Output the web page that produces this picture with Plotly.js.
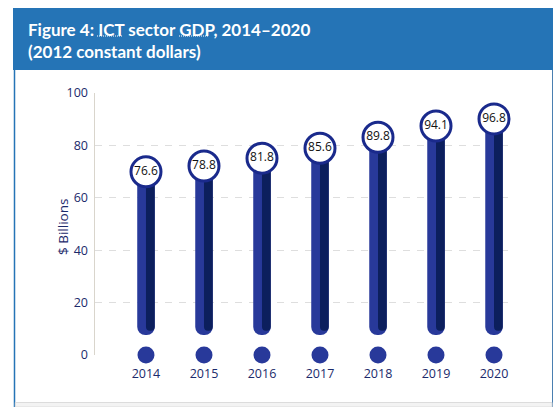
<!DOCTYPE html>
<html>
<head>
<meta charset="utf-8">
<script src="https://cdn.plot.ly/plotly-3.0.1.min.js"></script>
<style>
html,body{margin:0;padding:0;background:#fff;}
#chart{width:556px;height:407px;}
</style>
</head>
<body>
<div id="chart"></div>
<script>
// ---- data ----
const years = ["2014", "2015", "2016", "2017", "2018", "2019", "2020"];
const gdp = [76.6, 78.8, 81.8, 85.6, 89.8, 94.1, 96.8];
const gdpLabels = ["76.6", "78.8", "81.8", "85.6", "89.8", "94.1", "96.8"];
const yTicks = [0, 20, 40, 60, 80, 100];

// ---- style / geometry constants ----
const W = 556, H = 407;
const M = {l: 95, r: 45, t: 93, b: 52};
const plotW = W - M.l - M.r, plotH = H - M.t - M.b;
const yRange = [0, 100];
const xRange = [-0.879, 6.293];
const pxPerUnit = plotH / (yRange[1] - yRange[0]);
const CIRCLE_OFFSET = 17.5 / pxPerUnit;   // circle centre sits below the value
const BAR_END = 7.6;                      // rounded lower end of each stem
const DARK_END = BAR_END + 4.3 / pxPerUnit;
const unitPx = plotW / (xRange[1] - xRange[0]);
const barW = 17.5 / unitPx;

const NAVY = '#1b2a6b';
const LIGHT = '#28399a';
const DARK = '#0c1f5d';
const FONT = 'Lato, sans-serif';
const AXFONT = '"Open Sans", sans-serif';

const circleY = gdp.map(v => v - CIRCLE_OFFSET);

const px2x = p => (p - M.l) / plotW;
const px2y = p => (H - M.b - p) / plotH;

const traces = [
  {
    type: 'bar', x: years, y: circleY.map(c => BAR_END - c), base: circleY,
    width: barW, marker: {color: LIGHT, cornerradius: '50%', line: {width: 0}},
    hoverinfo: 'skip', showlegend: false
  },
  {
    type: 'bar', x: years, y: circleY.map(c => DARK_END - c), base: circleY,
    width: barW / 2, offset: 0, marker: {color: DARK, cornerradius: '50%', line: {width: 0}},
    hoverinfo: 'skip', showlegend: false
  },
  {
    type: 'scatter', mode: 'markers', x: years, y: years.map(() => 0),
    marker: {size: 17, color: LIGHT}, cliponaxis: false,
    hoverinfo: 'skip', showlegend: false
  },
  {
    type: 'scatter', mode: 'markers+text', x: years, y: circleY,
    text: gdpLabels, textposition: 'middle center',
    textfont: {family: AXFONT, size: 12, color: '#111'},
    marker: {size: 30, color: '#fff', line: {color: '#1a2a8c', width: 3}},
    cliponaxis: false, hoverinfo: 'skip', showlegend: false
  }
];

const shapes = [
  // header band
  {type: 'rect', xref: 'paper', yref: 'paper', layer: 'below',
   x0: px2x(13), x1: px2x(553), y0: px2y(70), y1: px2y(8),
   fillcolor: '#2574b6', line: {width: 0}},
  // dotted abbreviation underlines
  {type: 'line', xref: 'paper', yref: 'paper', layer: 'above',
   x0: px2x(97), x1: px2x(122), y0: px2y(36), y1: px2y(36),
   line: {color: '#ffffff', width: 1.2, dash: '1px,1px'}},
  {type: 'line', xref: 'paper', yref: 'paper', layer: 'above',
   x0: px2x(179), x1: px2x(208), y0: px2y(36), y1: px2y(36),
   line: {color: '#ffffff', width: 1.2, dash: '1px,1px'}},
  // left / right border of the panel
  {type: 'line', xref: 'paper', yref: 'paper', layer: 'below',
   x0: px2x(14.5), x1: px2x(14.5), y0: px2y(70), y1: px2y(407),
   line: {color: '#2574b6', width: 1.5}},
  {type: 'line', xref: 'paper', yref: 'paper', layer: 'below',
   x0: px2x(552.5), x1: px2x(552.5), y0: px2y(70), y1: px2y(407),
   line: {color: '#4a7fb0', width: 1}},
  // bottom grey strip
  {type: 'rect', xref: 'paper', yref: 'paper', layer: 'below',
   x0: px2x(15.3), x1: px2x(552), y0: px2y(407), y1: px2y(402.5),
   fillcolor: '#f3f3f3', line: {color: '#dcdcdc', width: 1}}
];

const layout = {
  width: W, height: H,
  margin: M,
  paper_bgcolor: '#fff', plot_bgcolor: 'rgba(0,0,0,0)',
  barmode: 'overlay',
  showlegend: false,
  font: {family: AXFONT, color: NAVY},
  title: {
    text: 'Figure 4: ICT sector GDP, 2014–2020<br>(2012 constant dollars)',
    font: {family: FONT, size: 17, color: '#fff', weight: 'bold'},
    xref: 'container', yref: 'container',
    x: 28 / W, xanchor: 'left',
    y: 1 - 36 / H, yanchor: 'top'
  },
  xaxis: {
    type: 'category', range: xRange, fixedrange: true,
    showgrid: false, zeroline: false, showline: false, ticks: '',
    tickfont: {size: 12.5, color: NAVY, family: AXFONT},
    ticklabelstandoff: 9
  },
  yaxis: {
    range: yRange, tickvals: yTicks, fixedrange: true,
    showgrid: true, gridcolor: '#dedede', gridwidth: 1, griddash: '7px,7px',
    zeroline: false,
    showline: true, linecolor: '#d9d5cc', linewidth: 1.5,
    ticks: '', ticklabelstandoff: 3,
    tickfont: {size: 12.5, color: NAVY, family: AXFONT}
  },
  annotations: [
    {text: '$ Billions', xref: 'paper', yref: 'paper',
     x: px2x(63.5), y: px2y(227.5), xanchor: 'center', yanchor: 'middle',
     textangle: -90, showarrow: false,
     font: {size: 13.5, color: NAVY, family: AXFONT}}
  ],
  shapes: shapes
};

Plotly.newPlot('chart', traces, layout, {displayModeBar: false, staticPlot: true});
</script>
</body>
</html>
